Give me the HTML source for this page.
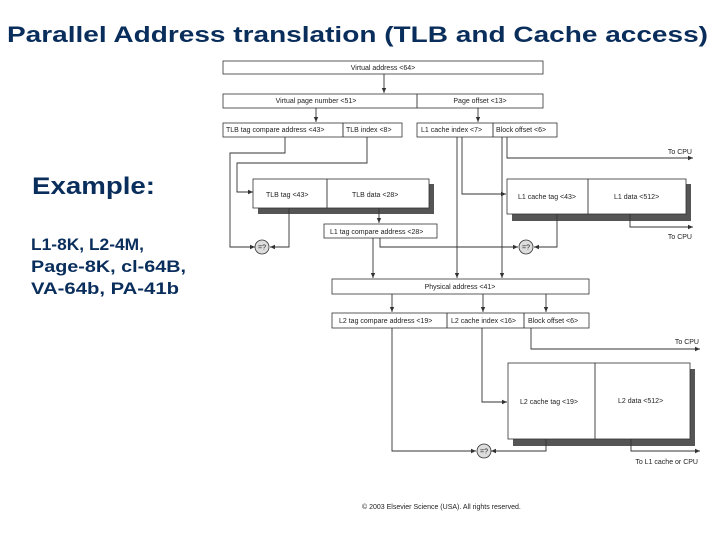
<!DOCTYPE html>
<html><head><meta charset="utf-8"><style>
html,body{margin:0;padding:0;background:#fff;}
svg{display:block;}
.t{font-family:"Liberation Sans",Arial,sans-serif;font-size:7px;fill:#222;}
.b{fill:#fff;stroke:#333;stroke-width:0.8;}
.l{stroke:#333;stroke-width:0.9;fill:none;}
.h{font-family:"Liberation Sans",Arial,sans-serif;font-weight:bold;fill:#0a2e5c;}
</style></head><body>
<svg width="720" height="540" viewBox="0 0 720 540" xmlns="http://www.w3.org/2000/svg">
<defs><marker id="a" markerWidth="6" markerHeight="6" refX="5" refY="3" orient="auto" markerUnits="userSpaceOnUse"><path d="M0,0.8 L5,3 L0,5.2 Z" fill="#333"/></marker></defs>
<text class="h" x="7" y="42" font-size="22" textLength="701" lengthAdjust="spacingAndGlyphs">Parallel Address translation (TLB and Cache access)</text>
<text class="h" x="32" y="194" font-size="24" textLength="123" lengthAdjust="spacingAndGlyphs">Example:</text>
<text class="h" x="31" y="250" font-size="17" textLength="113" lengthAdjust="spacingAndGlyphs">L1-8K, L2-4M,</text>
<text class="h" x="31" y="272" font-size="17" textLength="155" lengthAdjust="spacingAndGlyphs">Page-8K, cl-64B,</text>
<text class="h" x="31" y="294" font-size="17" textLength="148" lengthAdjust="spacingAndGlyphs">VA-64b, PA-41b</text>

<!-- top rows -->
<rect class="b" x="223" y="61" width="320" height="13"/>
<text class="t" x="383" y="70" text-anchor="middle">Virtual address &lt;64&gt;</text>
<line class="l" x1="384" y1="74" x2="384" y2="93" marker-end="url(#a)"/>
<rect class="b" x="223" y="94" width="320" height="14"/>
<line class="l" x1="417" y1="94" x2="417" y2="108"/>
<text class="t" x="316" y="103" text-anchor="middle">Virtual page number &lt;51&gt;</text>
<text class="t" x="480" y="103" text-anchor="middle">Page offset &lt;13&gt;</text>
<line class="l" x1="316" y1="108" x2="316" y2="122" marker-end="url(#a)"/>
<line class="l" x1="478" y1="108" x2="478" y2="122" marker-end="url(#a)"/>
<rect class="b" x="223" y="123" width="179" height="14"/>
<line class="l" x1="343" y1="123" x2="343" y2="137"/>
<text class="t" x="226" y="132">TLB tag compare address &lt;43&gt;</text>
<text class="t" x="346" y="132">TLB index &lt;8&gt;</text>
<rect class="b" x="417" y="123" width="140" height="14"/>
<line class="l" x1="493" y1="123" x2="493" y2="137"/>
<text class="t" x="421" y="132">L1 cache index &lt;7&gt;</text>
<text class="t" x="496" y="132">Block offset &lt;6&gt;</text>

<!-- TLB -->
<path class="l" d="M285,137 V153 H230 V247 H255" marker-end="url(#a)"/>
<path class="l" d="M367,137 V163 H237 V192 H253" marker-end="url(#a)"/>
<rect x="258" y="184" width="176" height="30" fill="#555"/>
<rect class="b" x="253" y="179" width="176" height="29"/>
<line class="l" x1="327" y1="179" x2="327" y2="208"/>
<text class="t" x="266" y="197">TLB tag &lt;43&gt;</text>
<text class="t" x="352" y="197">TLB data &lt;28&gt;</text>
<path class="l" d="M289,208 V247 H270" marker-end="url(#a)"/>
<line class="l" x1="379" y1="208" x2="379" y2="223" marker-end="url(#a)"/>
<rect class="b" x="324" y="224" width="113" height="14"/>
<text class="t" x="330" y="234">L1 tag compare address &lt;28&gt;</text>
<circle cx="262" cy="247" r="7" fill="#ddd" stroke="#333" stroke-width="0.8"/>
<text class="t" x="262" y="249.5" text-anchor="middle" font-size="6">=?</text>

<!-- L1 -->
<path class="l" d="M380,238 V247 H518" marker-end="url(#a)"/>
<line class="l" x1="373" y1="238" x2="373" y2="278" marker-end="url(#a)"/>
<line class="l" x1="457" y1="137" x2="457" y2="278" marker-end="url(#a)"/>
<path class="l" d="M462,137 V194 H506" marker-end="url(#a)"/>
<line class="l" x1="502" y1="137" x2="502" y2="278" marker-end="url(#a)"/>
<path class="l" d="M507,137 V158 H693" marker-end="url(#a)"/>
<text class="t" x="692" y="154" text-anchor="end">To CPU</text>
<rect x="512" y="184" width="179" height="37" fill="#555"/>
<rect class="b" x="507" y="179" width="179" height="35"/>
<line class="l" x1="588" y1="179" x2="588" y2="214"/>
<text class="t" x="518" y="199">L1 cache tag &lt;43&gt;</text>
<text class="t" x="614" y="199">L1 data &lt;512&gt;</text>
<path class="l" d="M557,214 V247 H534" marker-end="url(#a)"/>
<path class="l" d="M630,214 V227 H693" marker-end="url(#a)"/>
<text class="t" x="692" y="239" text-anchor="end">To CPU</text>
<circle cx="526" cy="247" r="7" fill="#ddd" stroke="#333" stroke-width="0.8"/>
<text class="t" x="526" y="249.5" text-anchor="middle" font-size="6">=?</text>

<!-- Physical -->
<rect class="b" x="332" y="279" width="257" height="15"/>
<text class="t" x="460" y="289" text-anchor="middle">Physical address &lt;41&gt;</text>
<line class="l" x1="392" y1="294" x2="392" y2="312" marker-end="url(#a)"/>
<line class="l" x1="483" y1="294" x2="483" y2="312" marker-end="url(#a)"/>
<line class="l" x1="546" y1="294" x2="546" y2="312" marker-end="url(#a)"/>
<rect class="b" x="332" y="313" width="257" height="15"/>
<line class="l" x1="447" y1="313" x2="447" y2="328"/>
<line class="l" x1="524" y1="313" x2="524" y2="328"/>
<text class="t" x="339" y="323">L2 tag compare address &lt;19&gt;</text>
<text class="t" x="451" y="323">L2 cache index &lt;16&gt;</text>
<text class="t" x="528" y="323">Block offset &lt;6&gt;</text>

<!-- L2 -->
<path class="l" d="M392,328 V451 H476" marker-end="url(#a)"/>
<path class="l" d="M482,328 V402 H507" marker-end="url(#a)"/>
<path class="l" d="M531,328 V349 H700" marker-end="url(#a)"/>
<text class="t" x="699" y="344" text-anchor="end">To CPU</text>
<rect x="513" y="369" width="182" height="77" fill="#555"/>
<rect class="b" x="508" y="363" width="182" height="76"/>
<line class="l" x1="595" y1="363" x2="595" y2="439"/>
<text class="t" x="520" y="404">L2 cache tag &lt;19&gt;</text>
<text class="t" x="618" y="403">L2 data &lt;512&gt;</text>
<path class="l" d="M546,439 V451 H491" marker-end="url(#a)"/>
<path class="l" d="M631,439 V451 H700" marker-end="url(#a)"/>
<text class="t" x="698" y="464" text-anchor="end">To L1 cache or CPU</text>
<circle cx="484" cy="451" r="7" fill="#ddd" stroke="#333" stroke-width="0.8"/>
<text class="t" x="484" y="453.5" text-anchor="middle" font-size="6">=?</text>

<text class="t" x="362" y="509" font-size="6.5">© 2003 Elsevier Science (USA). All rights reserved.</text>
</svg>
</body></html>
